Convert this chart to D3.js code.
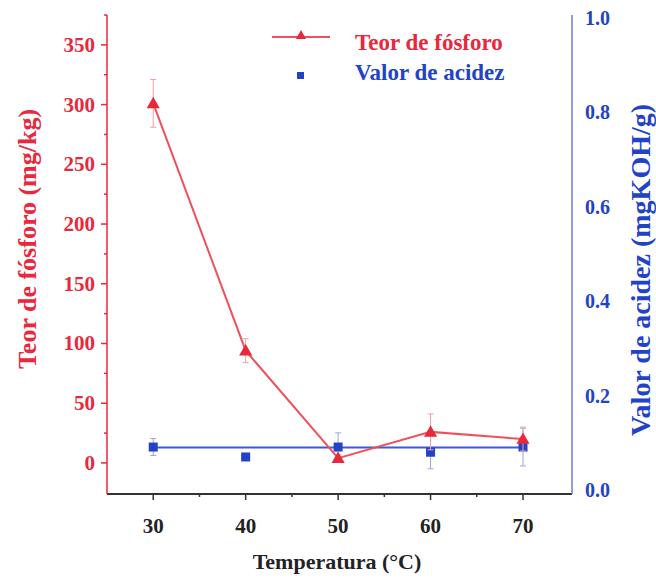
<!DOCTYPE html>
<html>
<head>
<meta charset="utf-8">
<script src="https://cdn.jsdelivr.net/npm/d3@7"></script>
<style>
  body { margin: 0; background: #fff; }
  svg text { font-family: "Liberation Serif", "DejaVu Serif", serif; font-weight: bold; }
</style>
</head>
<body>
<svg id="chart" width="656" height="580"></svg>
<script>
// Temperatures (°C)
const temperatures = [30, 40, 50, 60, 70];
// Phosphorus content (mg/kg) with error
const phosphorus = [301, 94, 4, 26, 20];
const phosphorusErr = [20, 10, 3, 15, 10];
// Acid value (mgKOH/g) with error
const acidity = [0.091, 0.07, 0.091, 0.08, 0.091];
const acidityErr = [0.018, 0, 0.03, 0.035, 0.04];
// Horizontal reference line for the acid value
const acidityLine = [0.09, 0.09];

const xTicks = [30, 40, 50, 60, 70];
const leftTicks = [0, 50, 100, 150, 200, 250, 300, 350];
const rightTicks = [0, 0.2, 0.4, 0.6, 0.8, 1.0];

const RED = "#e8283c";
const BLUE = "#2343c6";

const svg = d3.select("#chart");
const plotL = 107, plotR = 572, plotT = 15, plotB = 494;

const x = d3.scaleLinear().domain([25, 75.3]).range([plotL, plotR]);
const yL = d3.scaleLinear().domain([-26, 375]).range([plotB, plotT]);
const yR = d3.scaleLinear().domain([0, 1]).range([490, 18]);

// Bottom axis
const gx = svg.append("g").attr("transform", `translate(0,${plotB})`);
gx.append("line").attr("x1", plotL).attr("x2", plotR).attr("stroke", "#333").attr("stroke-width", 2);
gx.selectAll(".maj").data(xTicks).join("line")
  .attr("x1", d => x(d)).attr("x2", d => x(d)).attr("y1", 0).attr("y2", 6)
  .attr("stroke", "#333").attr("stroke-width", 1.5);
gx.selectAll(".min").data([35, 45, 55, 65]).join("line")
  .attr("x1", d => x(d)).attr("x2", d => x(d)).attr("y1", 0).attr("y2", 3)
  .attr("stroke", "#333").attr("stroke-width", 1.5);
gx.selectAll("text").data(xTicks).join("text")
  .attr("x", d => x(d)).attr("y", 39).attr("text-anchor", "middle")
  .attr("font-size", 21).attr("fill", "#222").text(d => d);
svg.append("text").attr("x", 337).attr("y", 569).attr("text-anchor", "middle")
  .attr("font-size", 22).attr("fill", "#222").text("Temperatura (°C)");

// Left axis
const gl = svg.append("g");
gl.append("line").attr("x1", plotL).attr("x2", plotL).attr("y1", plotT).attr("y2", plotB)
  .attr("stroke", RED).attr("stroke-width", 1.5);
gl.selectAll(".maj").data(leftTicks).join("line")
  .attr("x1", plotL - 6).attr("x2", plotL).attr("y1", d => yL(d)).attr("y2", d => yL(d))
  .attr("stroke", RED).attr("stroke-width", 1.5);
gl.selectAll(".min").data(leftTicks.map(d => d + 25)).join("line")
  .attr("x1", plotL - 3).attr("x2", plotL).attr("y1", d => yL(d)).attr("y2", d => yL(d))
  .attr("stroke", RED).attr("stroke-width", 1.5);
gl.selectAll("text").data(leftTicks).join("text")
  .attr("x", plotL - 12).attr("y", d => yL(d) + 7).attr("text-anchor", "end")
  .attr("font-size", 21).attr("fill", RED).text(d => d);
svg.append("text").attr("transform", "translate(36,239) rotate(-90)")
  .attr("text-anchor", "middle").attr("font-size", 26).attr("fill", RED)
  .text("Teor de fósforo (mg/kg)");

// Right axis
const gr = svg.append("g");
gr.append("line").attr("x1", plotR).attr("x2", plotR).attr("y1", plotT).attr("y2", plotB)
  .attr("stroke", "#6a7fd0").attr("stroke-width", 1.5);
gr.selectAll("text").data(rightTicks).join("text")
  .attr("x", plotR + 13).attr("y", d => yR(d) + 7).attr("text-anchor", "start")
  .attr("font-size", 20).attr("fill", BLUE).text(d => d.toFixed(1));
svg.append("text").attr("transform", "translate(650,270) rotate(-90)")
  .attr("text-anchor", "middle").attr("font-size", 28).attr("fill", BLUE)
  .text("Valor de acidez (mgKOH/g)");

// Error bars helper
function errorBars(vals, errs, scale, color) {
  const g = svg.append("g").attr("stroke", color).attr("stroke-width", 1);
  temperatures.forEach((t, i) => {
    if (!errs[i]) return;
    const y1 = scale(vals[i] - errs[i]), y2 = scale(vals[i] + errs[i]);
    g.append("line").attr("x1", x(t)).attr("x2", x(t)).attr("y1", y1).attr("y2", y2);
    g.append("line").attr("x1", x(t) - 3).attr("x2", x(t) + 3).attr("y1", y1).attr("y2", y1);
    g.append("line").attr("x1", x(t) - 3).attr("x2", x(t) + 3).attr("y1", y2).attr("y2", y2);
  });
}

// Acid value series
errorBars(acidity, acidityErr, yR, "#9aa6d8");
svg.append("path")
  .datum(acidityLine.map((v, i) => [temperatures[i * 4], v]))
  .attr("d", d3.line().x(d => x(d[0])).y(d => yR(d[1])))
  .attr("stroke", "#3a5ad8").attr("stroke-width", 2).attr("fill", "none");
svg.selectAll(".sq").data(temperatures).join("rect")
  .attr("x", d => x(d) - 4.5).attr("y", (d, i) => yR(acidity[i]) - 4.5)
  .attr("width", 9).attr("height", 9).attr("fill", BLUE);

// Phosphorus series
errorBars(phosphorus, phosphorusErr, yL, "#f0a0aa");
svg.append("path")
  .datum(temperatures.map((t, i) => [t, phosphorus[i]]))
  .attr("d", d3.line().x(d => x(d[0])).y(d => yL(d[1])))
  .attr("stroke", "#f0505e").attr("stroke-width", 2).attr("fill", "none");
const tri = d3.symbol().type(d3.symbolTriangle).size(75);
svg.selectAll(".tri").data(temperatures).join("path")
  .attr("d", tri).attr("transform", (d, i) => `translate(${x(d)},${yL(phosphorus[i]) + 1})`)
  .attr("fill", RED);

// Legend
const lg = svg.append("g");
lg.append("line").attr("x1", 272).attr("x2", 330).attr("y1", 37).attr("y2", 37)
  .attr("stroke", "#f0505e").attr("stroke-width", 2);
lg.append("path").attr("d", d3.symbol().type(d3.symbolTriangle).size(45)())
  .attr("transform", "translate(301,36)").attr("fill", RED);
lg.append("text").attr("x", 355).attr("y", 50).attr("font-size", 23).attr("fill", RED)
  .text("Teor de fósforo");
lg.append("rect").attr("x", 297).attr("y", 72).attr("width", 7).attr("height", 7).attr("fill", BLUE);
lg.append("text").attr("x", 355).attr("y", 80).attr("font-size", 23).attr("fill", BLUE)
  .text("Valor de acidez");
</script>
</body>
</html>
